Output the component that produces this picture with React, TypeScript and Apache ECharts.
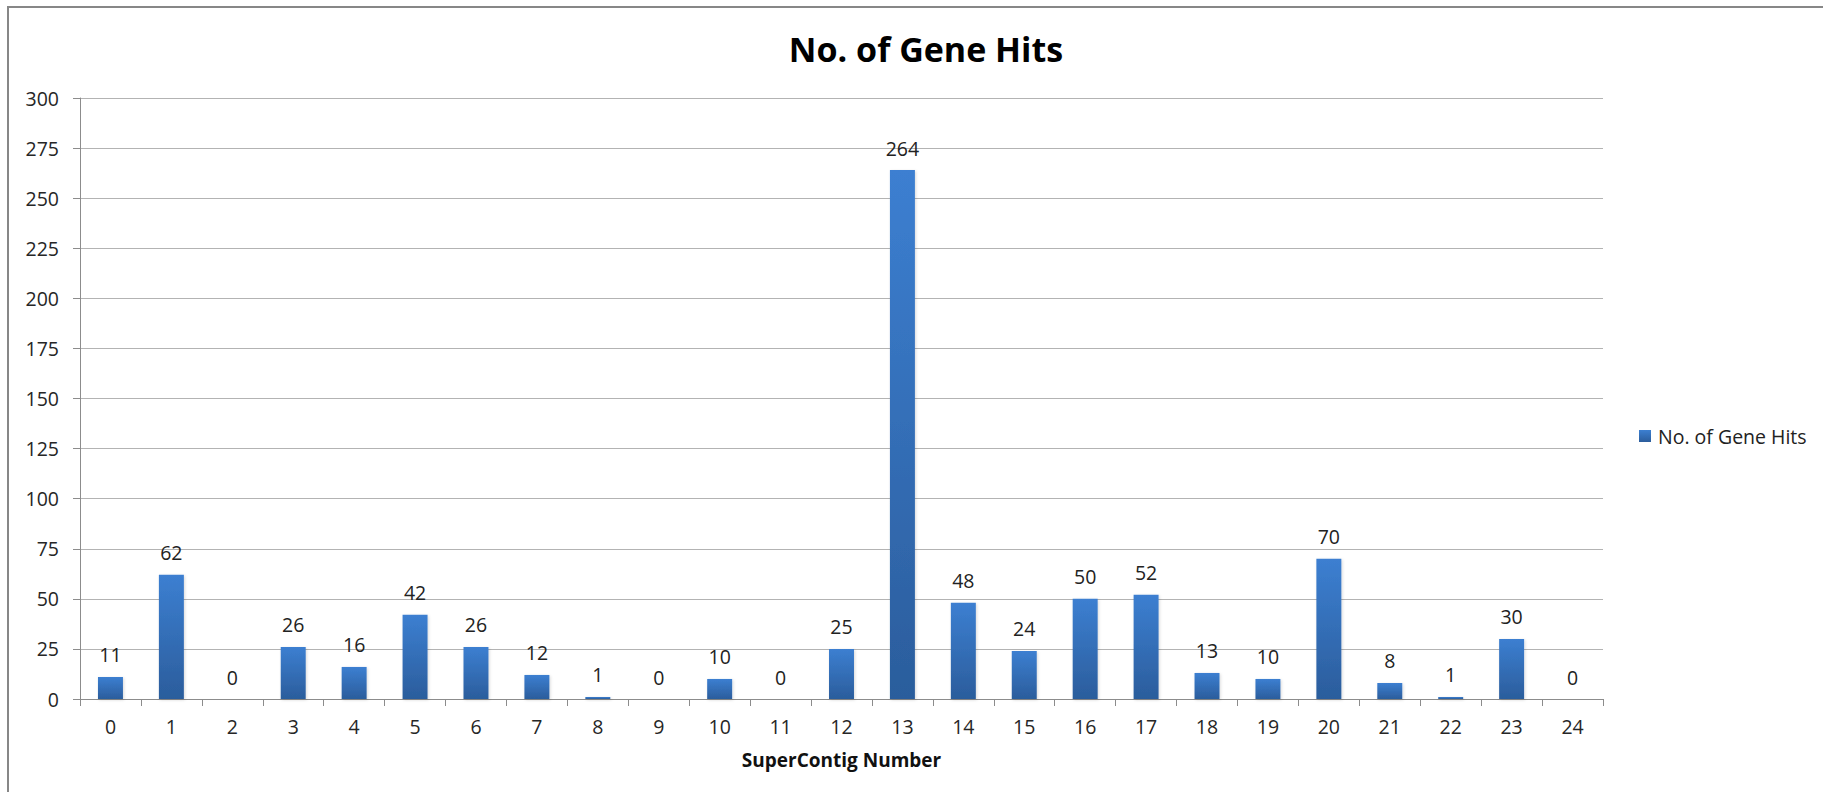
import React, { useEffect, useRef } from "react";
import * as echarts from "echarts";

const categories = ["0","1","2","3","4","5","6","7","8","9","10","11","12","13","14","15","16","17","18","19","20","21","22","23","24"];
const geneHits = [11, 62, 0, 26, 16, 42, 26, 12, 1, 0, 10, 0, 25, 264, 48, 24, 50, 52, 13, 10, 70, 8, 1, 30, 0];
const seriesName = "No. of Gene Hits";
const titleText = "No. of Gene Hits";
const xAxisName = "SuperContig Number";

const FONT = "'Open Sans', Lato, sans-serif";

export default function App() {
  const ref = useRef<HTMLDivElement>(null);
  useEffect(() => {
    document.body.style.margin = "0";
    const chart = echarts.init(ref.current!, null, { renderer: "svg" });
    chart.setOption({
      animation: false,
      backgroundColor: "#ffffff",
      textStyle: { fontFamily: FONT },
      title: {
        text: titleText,
        left: 921,
        top: 27,
        textAlign: "center",
        textStyle: { fontFamily: FONT, fontSize: 34, fontWeight: "bold", color: "#000" },
      },
      legend: {
        data: [seriesName],
        left: 1634,
        top: 421,
        icon: "rect",
        itemWidth: 12,
        itemHeight: 12,
        itemGap: 8,
        textStyle: { fontFamily: FONT, fontSize: 19.5, color: "#222", padding: [0, 0, 0, 2] },
      },
      graphic: [
        {
          type: "rect",
          shape: { x: 8, y: 7, width: 1900, height: 900 },
          style: { fill: "none", stroke: "#878787", lineWidth: 2 },
          silent: true,
        },
      ],
      grid: { left: 80, right: 220, top: 98, bottom: 93, containLabel: false },
      xAxis: {
        type: "category",
        data: categories,
        name: xAxisName,
        nameLocation: "middle",
        nameGap: 51,
        nameTextStyle: { fontFamily: FONT, fontSize: 19, fontWeight: "bold", color: "#111" },
        axisLine: { lineStyle: { color: "#8c8c8c", width: 1 } },
        axisTick: { show: true, alignWithLabel: false, length: 7, lineStyle: { color: "#8c8c8c" } },
        axisLabel: { fontFamily: FONT, fontSize: 19.5, color: "#262626", margin: 17 },
        splitLine: { show: false },
      },
      yAxis: {
        type: "value",
        min: 0,
        max: 300,
        interval: 25,
        axisLine: { show: true, lineStyle: { color: "#8c8c8c", width: 1 } },
        axisTick: { show: true, length: 7, lineStyle: { color: "#8c8c8c" } },
        axisLabel: { fontFamily: FONT, fontSize: 19.5, color: "#262626", margin: 21 },
        splitLine: { show: true, lineStyle: { color: "#b3b3b3", width: 1 } },
      },
      series: [
        {
          name: seriesName,
          type: "bar",
          data: geneHits,
          barWidth: "41%",
          itemStyle: {
            color: new echarts.graphic.LinearGradient(0, 0, 0, 1, [
              { offset: 0, color: "#3c7fd1" },
              { offset: 1, color: "#2b5d9c" },
            ]),
            shadowColor: "rgba(0,0,0,0.15)",
            shadowBlur: 3,
            shadowOffsetX: 1,
            shadowOffsetY: 1,
          },
          label: {
            show: true,
            position: "top",
            distance: 12,
            fontFamily: FONT,
            fontSize: 19.5,
            color: "#222",
          },
        },
      ],
    });
    return () => chart.dispose();
  }, []);
  return <div ref={ref} style={{ width: 1823, height: 792 }} />;
}
